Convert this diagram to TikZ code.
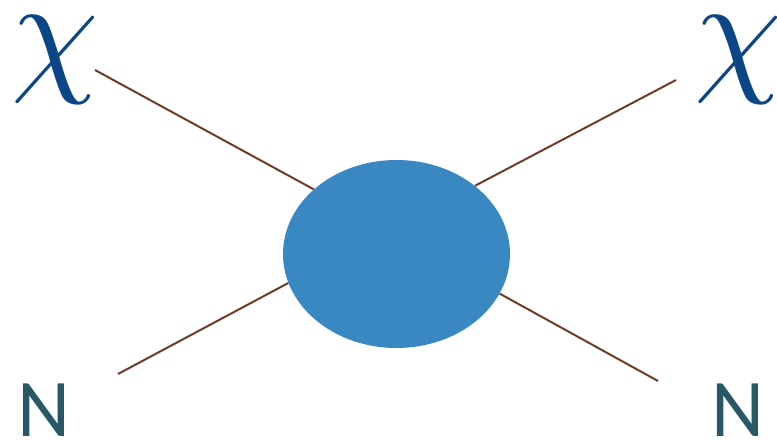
\documentclass[tikz,border=0pt]{standalone}
\usepackage{fontspec}
\newfontfamily\nfont{Carlito}
\usetikzlibrary{shapes.geometric}
\definecolor{chicolor}{RGB}{12,70,135}
\definecolor{ncolor}{RGB}{40,88,102}
\definecolor{legcolor}{RGB}{110,60,40}
\definecolor{blobcolor}{RGB}{58,136,194}

\begin{document}
\begin{tikzpicture}[x=1pt, y=-1pt,
  chi/.style={text=chicolor, inner sep=0pt, scale=14},
  nuc/.style={text=ncolor, inner sep=0pt, font=\nfont\fontsize{82}{82}\selectfont},
  leg/.style={draw=legcolor, line width=2pt},
  blob/.style={ellipse, fill=blobcolor, minimum width=227pt, minimum height=188pt, inner sep=0pt}
]
  \useasboundingbox (0,0) rectangle (777,441);
  \node[blob] (vtx) at (396.5,254) {};
  \node[chi] (chiin)  at (55,60)  {$\chi$};
  \node[chi] (chiout) at (738,60) {$\chi$};
  \node[nuc, anchor=base] (nin)    at (44,436) {N};
  \node[nuc, anchor=base] (nout)   at (738,436) {N};
  \coordinate (a) at (95,70);
  \coordinate (b) at (676,80);
  \coordinate (c) at (118,374);
  \coordinate (d) at (658,381);
  \draw[leg] (a) -- (vtx.142);
  \draw[leg] (b) -- (vtx.41);
  \draw[leg] (c) -- (vtx.195);
  \draw[leg] (d) -- (vtx.-21);
\end{tikzpicture}
\end{document}
